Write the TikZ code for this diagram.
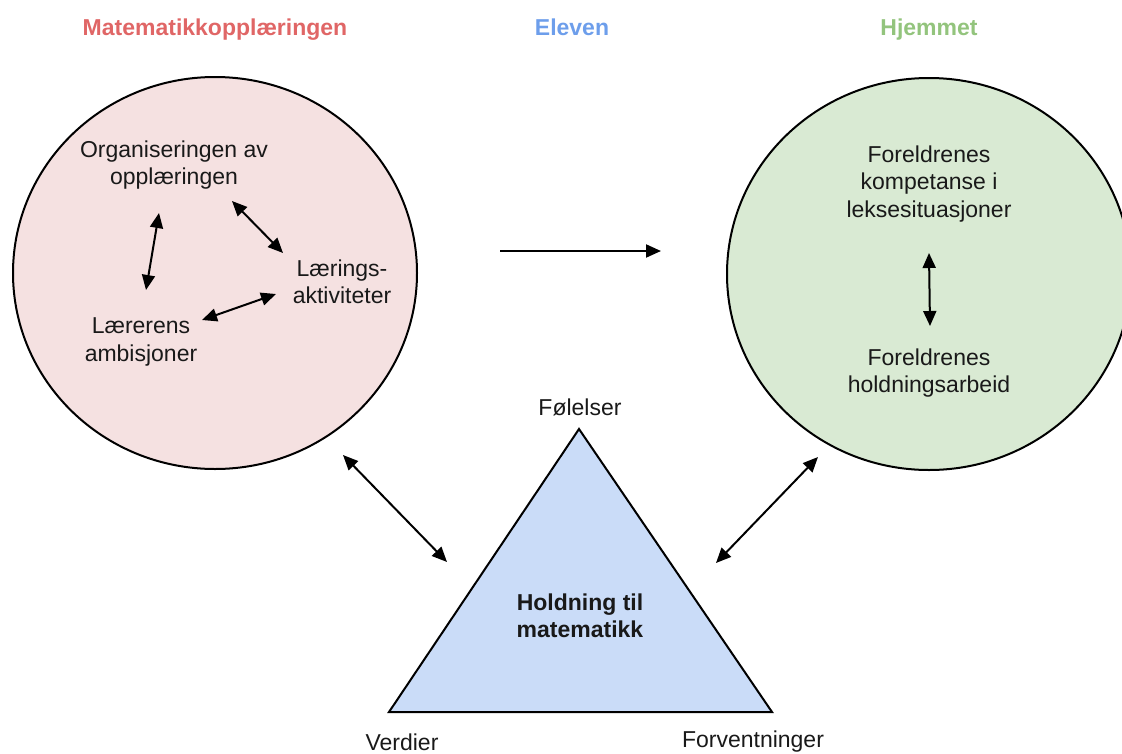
\documentclass[tikz,border=0pt]{standalone}
\usepackage{fontspec}
\setmainfont{Liberation Sans}
\usetikzlibrary{arrows.meta,shapes.geometric}
\definecolor{titlered}{HTML}{E06666}
\definecolor{titleblue}{HTML}{6D9EEB}
\definecolor{titlegreen}{HTML}{93C47D}
\definecolor{fillpink}{HTML}{F5E1E1}
\definecolor{fillgreen}{HTML}{D9EAD3}
\definecolor{fillblue}{HTML}{CADCF8}
\tikzset{
  title/.style={font=\fontsize{23}{27}\selectfont\bfseries, anchor=base},
  label/.style={font=\fontsize{23}{27.5}\selectfont, align=center, text=black!90},
  area/.style={ellipse, draw=black, line width=2pt, minimum width=404pt, minimum height=392pt, inner sep=0pt},
  link/.style={line width=2pt, {Triangle[length=15pt,width=13pt]}-{Triangle[length=15pt,width=13pt]}},
  onelink/.style={line width=2pt, -{Triangle[length=15pt,width=13pt]}}
}
\begin{document}
\begin{tikzpicture}[x=1pt,y=-1pt]
\useasboundingbox (0,0) rectangle (1122,753);
\begin{scope}
\clip (0,0) rectangle (1122,753);

% column titles
\node[title, text=titlered] (t1) at (215,35) {Matematikkopplæringen};
\node[title, text=titleblue] (t2) at (572,35) {Eleven};
\node[title, text=titlegreen] (t3) at (929,35) {Hjemmet};

% the two surrounding areas
\node[area, fill=fillpink] (school) at (215,273) {};
\node[area, fill=fillgreen] (home) at (929,274) {};

% the pupil's attitude triangle
\coordinate (apex) at (579,429);
\coordinate (bl) at (389,712);
\coordinate (br) at (772,712);
\filldraw[fill=fillblue, draw=black, line width=2pt, line join=miter] (apex) -- (bl) -- (br) -- cycle;
\node[label, font=\fontsize{23}{27.5}\selectfont\bfseries] (att) at (580,616) {Holdning til\\matematikk};
\node[label] (fol) at (580,407) {Følelser};
\node[label] (ver) at (402,742) {Verdier};
\node[label] (forv) at (753,742) {Forventninger};

% school side
\node[label] (org) at (174,165) {Organiseringen av\\opplæringen};
\node[label] (akt) at (342,282) {Lærings-\\aktiviteter};
\node[label] (amb) at (141,342) {Lærerens\\ambisjoner};
\coordinate (orgS) at (159,213);
\coordinate (ambN) at (146,290);
\coordinate (orgE) at (232,201);
\coordinate (aktN) at (283,253);
\coordinate (aktW) at (276,294);
\coordinate (ambE) at (202,320);
\draw[link] (orgS) -- (ambN);
\draw[link] (orgE) -- (aktN);
\draw[link] (aktW) -- (ambE);

% home side
\node[label] (komp) at (929,184) {Foreldrenes\\kompetanse i\\leksesituasjoner};
\node[label] (hold) at (929,373) {Foreldrenes\\holdningsarbeid};
\coordinate (kompS) at (929,253);
\coordinate (holdN) at (930,326);
\draw[link] (kompS) -- (holdN);

% links between the areas
\coordinate (midL) at (500,251);
\coordinate (midR) at (661,251);
\draw[onelink] (midL) -- (midR);
\coordinate (schoolSE) at (343,455);
\coordinate (attW) at (447,562);
\draw[link] (schoolSE) -- (attW);
\coordinate (homeSW) at (818,457);
\coordinate (attE) at (716,563);
\draw[link] (homeSW) -- (attE);
\end{scope}
\end{tikzpicture}
\end{document}
